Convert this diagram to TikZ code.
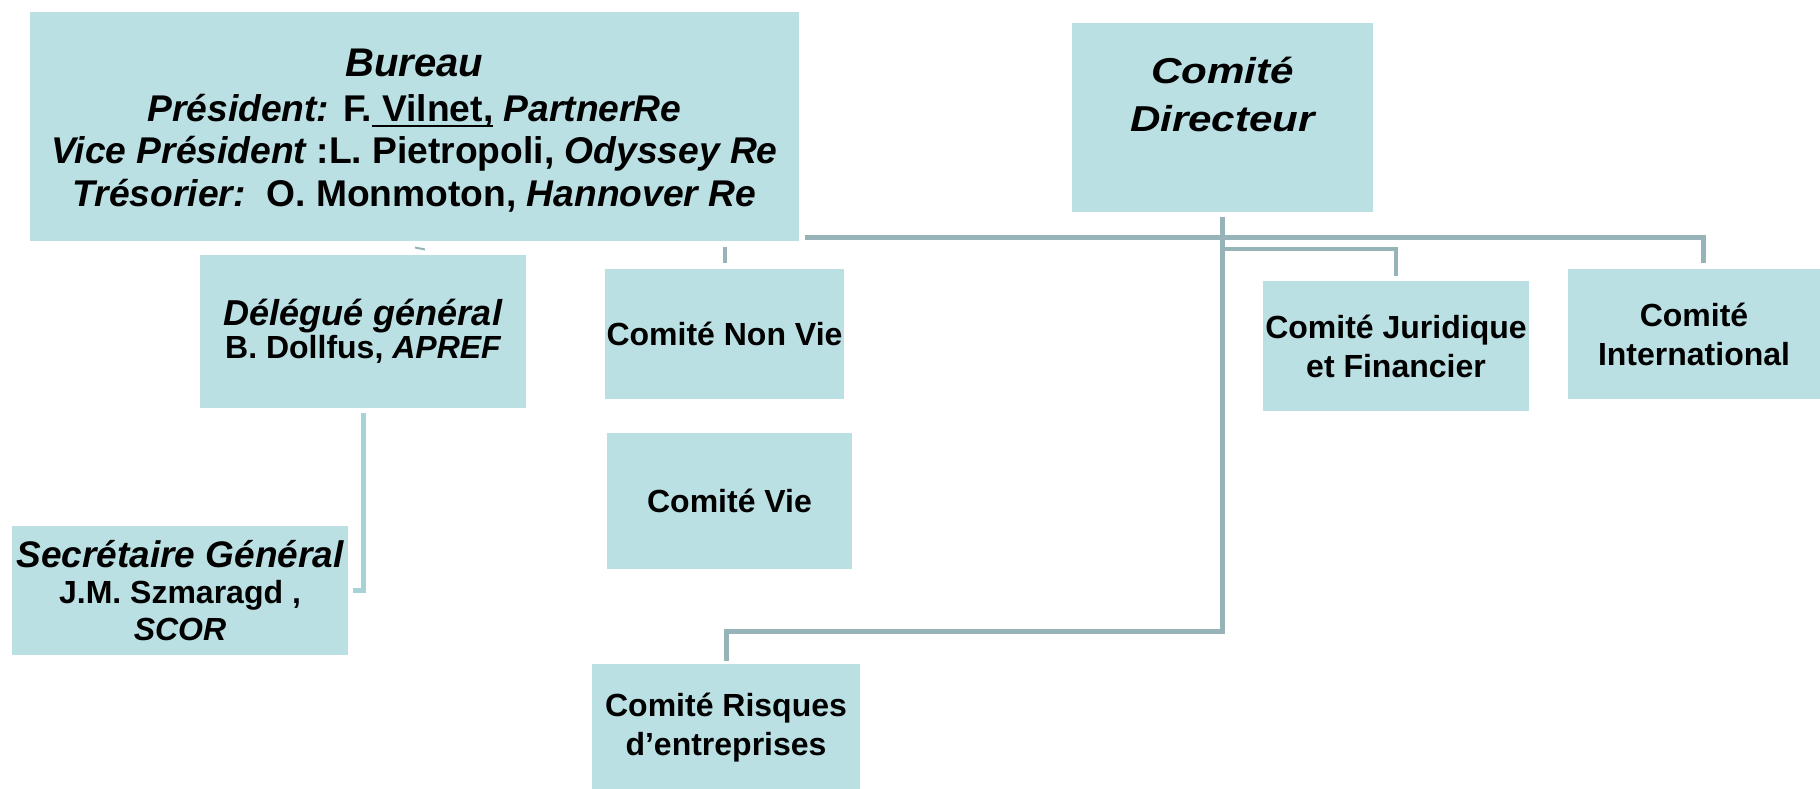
\documentclass[tikz,border=0pt]{standalone}
\usepackage{fontspec}
\setmainfont{Liberation Sans}
\newfontfamily\widefont{Liberation Sans}[FakeStretch=1.17]
\newcommand\thickunder[1]{\setbox0\hbox{#1}\rlap{\rule[-3pt]{\wd0}{1.1pt}}\box0\relax}
\definecolor{boxblue}{HTML}{BBE0E3}
\definecolor{linegray}{HTML}{96B4B7}
\definecolor{linelight}{HTML}{A7D2D7}
\begin{document}
\begin{tikzpicture}
[x=0.5pt,y=-0.5pt,
 boxdecorate/.style={shape=rectangle,fill=boxblue,inner sep=0pt,align=center,%
   font=\bfseries\fontsize{16}{19.5}\selectfont},%
 linedecorate/.style={-,draw=linegray,line width=2.5pt},%
 branchdecorate/.style={-,draw=linegray,line width=2pt},%
 lightdecorate/.style={-,draw=linelight,line width=2.5pt}]
\useasboundingbox (0,0) rectangle (1820,788);
%% nodes or boxes
\node (bureau) at (414.5,126.5) [boxdecorate,minimum width=384.5pt,minimum height=114.5pt] {};
\node (bureautext) at ([yshift=-2pt]bureau.center) [align=center,%
  font=\bfseries\fontsize{18.6}{21.25}\selectfont]
  {{\fontsize{20}{22.5}\selectfont\itshape Bureau}\\[1.25pt]
   {\itshape Président:} F.\thickunder{\ Vilnet,} {\itshape PartnerRe}\\
   {\itshape Vice Président} :L. Pietropoli, {\itshape Odyssey Re}\\
   {\itshape Trésorier:}\ \ O. Monmoton, {\itshape Hannover Re}};
\node (dir) at (1222.5,117.5) [boxdecorate,minimum width=150.5pt,minimum height=94.5pt] {};
\node (dirtext) at ([yshift=11.75pt]dir.center) [align=center,%
  font=\widefont\bfseries\itshape\fontsize{18}{24}\selectfont] {Comité\\Directeur};
\node (del) at (363,331.5) [boxdecorate,minimum width=163pt,minimum height=76.5pt,%
  font=\bfseries\fontsize{18}{16.5}\selectfont]
  {{\itshape Délégué général}\\
   {\fontsize{16}{16.5}\selectfont B. Dollfus, {\itshape APREF}}};
\node (sec) at (180,590.5) [boxdecorate,minimum width=168pt,minimum height=64.5pt,%
  font=\bfseries\fontsize{18.5}{18.25}\selectfont]
  {{\itshape Secrétaire Général}\\
   {\fontsize{16}{18.25}\selectfont J.M. Szmaragd ,}\\
   {\fontsize{16}{18.25}\selectfont\itshape SCOR}};
\foreach \boxname/\x/\y/\w/\h/\boxtext in {nonvie/724.5/334/119.5/65/{Comité Non Vie},
    vie/729.5/501/122.5/68/{Comité Vie},
    jur/1396/346/133/65/{Comité Juridique\\et Financier},
    intl/1694/334/126/65/{Comité\\International},
    risk/726/727.5/134/63.5/{Comité Risques\\d’entreprises}} {
  \node (\boxname) at (\x,\y) [boxdecorate,minimum width=\w pt,minimum height=\h pt] {\boxtext};
}
%% edges or lines
\coordinate (bureauend) at ([xshift=3pt,yshift=2pt]bureau.south east);
\coordinate (dirbend) at (1222.5,631);
\coordinate (tickA) at (415,247.5);
\coordinate (tickB) at (425,249.5);
\draw[linedecorate] (bureauend) -| ([xshift=4.5pt,yshift=3pt]intl.north);
\draw[linedecorate] ([yshift=-2.5pt]dir.south) -- (dirbend) -| ([yshift=1.5pt]risk.north);
\draw[branchdecorate] ([yshift=-18.5pt]dir.south) -| ([yshift=2.5pt]jur.north);
\draw[linedecorate,line width=2pt] ([yshift=3pt]nonvie.north) -- ++(0,-16);
\draw[linedecorate,line width=1pt] (tickA) -- (tickB);
\draw[lightdecorate] ([yshift=-2.5pt]del.south) |- ([xshift=2.5pt]sec.east);
\end{tikzpicture}
\end{document}
